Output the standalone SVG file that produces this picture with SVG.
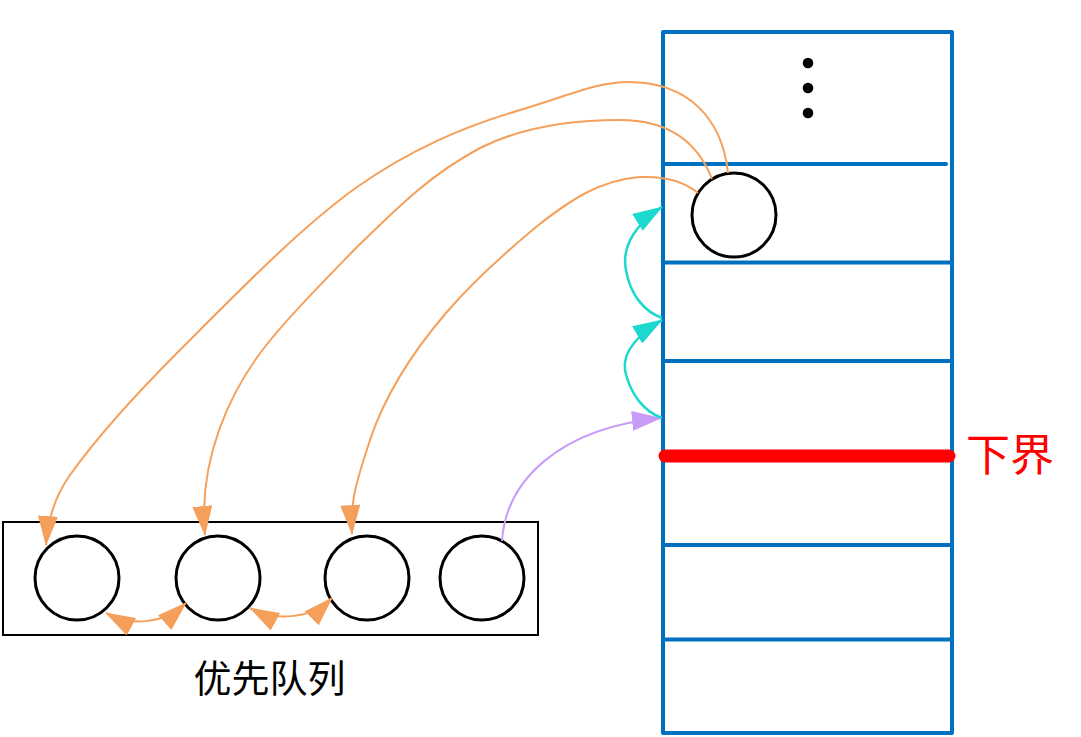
<svg xmlns="http://www.w3.org/2000/svg" width="1081" height="737" viewBox="0 0 1081 737">
<style>
.blue{fill:none;stroke:#0070C0;stroke-width:4;stroke-linecap:round;stroke-linejoin:round}
.node{fill:#fff;stroke:#000;stroke-width:3}
.or{fill:none;stroke:#F5A05A;stroke-width:2}
.cy{fill:none;stroke:#1CD8CF;stroke-width:2.5}
.pu{fill:none;stroke:#C99BF9;stroke-width:2}
.cjk{font-family:"Noto Sans CJK SC","Noto Sans CJK JP",sans-serif}
</style>
<defs>
<marker id="aOr" viewBox="0 0 30 20" markerUnits="userSpaceOnUse" markerWidth="30" markerHeight="20" refX="29" refY="10" orient="auto"><path d="M0,0L30,10L0,20z" fill="#F5A05A"/></marker>
<marker id="aOr2" viewBox="0 0 30 20" markerUnits="userSpaceOnUse" markerWidth="30" markerHeight="20" refX="29" refY="10" orient="auto-start-reverse"><path d="M0,0L30,10L0,20z" fill="#F5A05A"/></marker>
<marker id="aCy" viewBox="0 0 30 20" markerUnits="userSpaceOnUse" markerWidth="30" markerHeight="20" refX="29" refY="10" orient="auto"><path d="M0,0L30,10L0,20z" fill="#1CD8CF"/></marker>
<marker id="aPu" viewBox="0 0 30 20" markerUnits="userSpaceOnUse" markerWidth="30" markerHeight="20" refX="29" refY="10" orient="auto"><path d="M0,0L30,10L0,20z" fill="#C99BF9"/></marker>
</defs>
<rect width="1081" height="737" fill="#fff"/>
<g id="stack">
<rect class="blue" x="663" y="32" width="289" height="701"/>
<line class="blue" x1="663" y1="164" x2="946" y2="164"/>
<line class="blue" x1="663" y1="262.5" x2="952" y2="262.5"/>
<line class="blue" x1="663" y1="361" x2="952" y2="361"/>
<line class="blue" x1="663" y1="545" x2="952" y2="545"/>
<line class="blue" x1="663" y1="639.5" x2="952" y2="639.5"/>
</g>
<g id="dots" fill="#000">
<circle cx="808" cy="63" r="5.3"/>
<circle cx="808" cy="88" r="5.3"/>
<circle cx="808" cy="113" r="5.3"/>
</g>
<g id="lower-bound">
<line x1="665" y1="456" x2="949" y2="456" stroke="#FF0000" stroke-width="13" stroke-linecap="round"/>
<text class="cjk" x="966" y="471" font-size="44" fill="#FF0000">下界</text>
</g>
<g id="current-node">
<circle class="node" cx="734" cy="215" r="42"/>
</g>
<g id="priority-queue">
<rect x="3" y="522" width="535" height="113" fill="none" stroke="#000" stroke-width="2"/>
<text class="cjk" x="269.5" y="692" font-size="38" text-anchor="middle" fill="#000">优先队列</text>
</g>
<g id="q1"><circle class="node" cx="77" cy="578" r="42"/></g>
<g id="q2"><circle class="node" cx="218" cy="578" r="42"/></g>
<g id="q3"><circle class="node" cx="367" cy="578" r="42"/></g>
<g id="q4"><circle class="node" cx="482" cy="578" r="42"/></g>
<g id="connectors">
<path class="or" marker-end="url(#aOr)" d="M728,173 C722,118 688,82 628,82 C598,82 570,95 520,110 C460,128 410,150 357,187 C300,228 240,290 180,350 C130,400 95,440 70,475 C58,492 48,515 46,545"/>
<path class="or" marker-end="url(#aOr)" d="M712,179 C698,143 670,120 620,120 C570,120 520,128 480,148 C430,175 400,205 357,247 C320,285 290,315 268,343 C230,390 198,460 205,535"/>
<path class="or" marker-end="url(#aOr)" d="M698,193 C685,182 665,176 640,177 C600,180 570,200 536,227 C500,257 470,285 446,313 C410,355 385,395 370,440 C357,480 350,500 352,534"/>
<path class="pu" marker-end="url(#aPu)" d="M502,541 C506,480 560,428 661,418"/>
<path class="cy" marker-end="url(#aCy)" d="M662,418 C645,412 630,395 625,370 C622,350 642,332 662,320"/>
<path class="cy" marker-end="url(#aCy)" d="M662,318 C645,312 630,295 626,270 C621,245 638,222 662,207"/>
<path class="or" marker-start="url(#aOr2)" marker-end="url(#aOr2)" d="M106,613 C130,626 162,625 186,603"/>
<path class="or" marker-start="url(#aOr2)" marker-end="url(#aOr2)" d="M250,608 C274,621 310,620 332,598"/>
</g>
</svg>
